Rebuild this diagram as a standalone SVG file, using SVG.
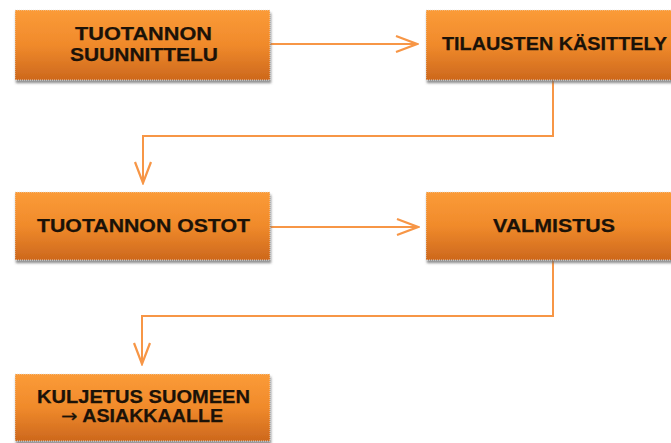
<svg xmlns="http://www.w3.org/2000/svg" width="671" height="443" viewBox="0 0 671 443">
  <defs>
    <linearGradient id="boxFill" x1="0" y1="0" x2="0" y2="1">
      <stop offset="0" stop-color="#fb9b38"/>
      <stop offset="0.5" stop-color="#f08a2b"/>
      <stop offset="1" stop-color="#cd681d"/>
    </linearGradient>
    <filter id="shadow" x="-5%" y="-10%" width="112%" height="130%">
      <feDropShadow dx="1" dy="3" stdDeviation="1.2" flood-color="#6e6e6e" flood-opacity="0.75"/>
    </filter>
    <marker id="chevron" viewBox="0 0 24 20" refX="22" refY="10" markerWidth="24" markerHeight="20" markerUnits="userSpaceOnUse" orient="auto">
      <path d="M1,2 L22,10 L1,18" fill="none" stroke="#f79646" stroke-width="2.2" stroke-linejoin="miter"/>
    </marker>
  </defs>
  <style>
    .box { fill: url(#boxFill); stroke: #e4e4e4; stroke-width: 0.8; stroke-dasharray: 1 1; filter: url(#shadow); }
    .label { font-family: "Liberation Sans", Arial, sans-serif; font-weight: bold; font-size: 17.5px; fill: #1b1208; stroke: #1b1208; stroke-width: 0.25; text-anchor: middle; }
    .arrow-glyph { font-family: "DejaVu Sans", sans-serif; font-weight: normal; }
    .link { fill: none; stroke: #f79646; stroke-width: 2; marker-end: url(#chevron); }
  </style>

  <rect width="671" height="443" fill="#ffffff"/>

  <g id="connectors">
    <path class="link" d="M270,44 L417,44"/>
    <path class="link" d="M553,80 L553,136 L143,136 L143,183"/>
    <path class="link" d="M270,227 L418,227"/>
    <path class="link" d="M553,260 L553,316 L142,316 L142,364"/>
  </g>

  <g id="tuotannon-suunnittelu">
    <rect class="box" x="15" y="10" width="255" height="70"/>
    <text class="label" x="143.5" y="40" textLength="137" lengthAdjust="spacingAndGlyphs">TUOTANNON</text>
    <text class="label" x="144" y="61" textLength="148" lengthAdjust="spacingAndGlyphs">SUUNNITTELU</text>
  </g>

  <g id="tilausten-kasittely">
    <rect class="box" x="426" y="10" width="260" height="70"/>
    <text class="label" x="554.5" y="50" textLength="225" lengthAdjust="spacingAndGlyphs">TILAUSTEN KÄSITTELY</text>
  </g>

  <g id="tuotannon-ostot">
    <rect class="box" x="15" y="192" width="255" height="68"/>
    <text class="label" x="143.5" y="232" textLength="213" lengthAdjust="spacingAndGlyphs">TUOTANNON OSTOT</text>
  </g>

  <g id="valmistus">
    <rect class="box" x="426" y="192" width="260" height="68"/>
    <text class="label" x="554" y="232" textLength="122" lengthAdjust="spacingAndGlyphs">VALMISTUS</text>
  </g>

  <g id="kuljetus">
    <rect class="box" x="15" y="374" width="255" height="67"/>
    <text class="label" x="143.5" y="403" textLength="213" lengthAdjust="spacingAndGlyphs">KULJETUS SUOMEEN</text>
    <text class="label" x="142" y="422" textLength="162" lengthAdjust="spacingAndGlyphs"><tspan class="arrow-glyph">→</tspan> ASIAKKAALLE</text>
  </g>
</svg>
